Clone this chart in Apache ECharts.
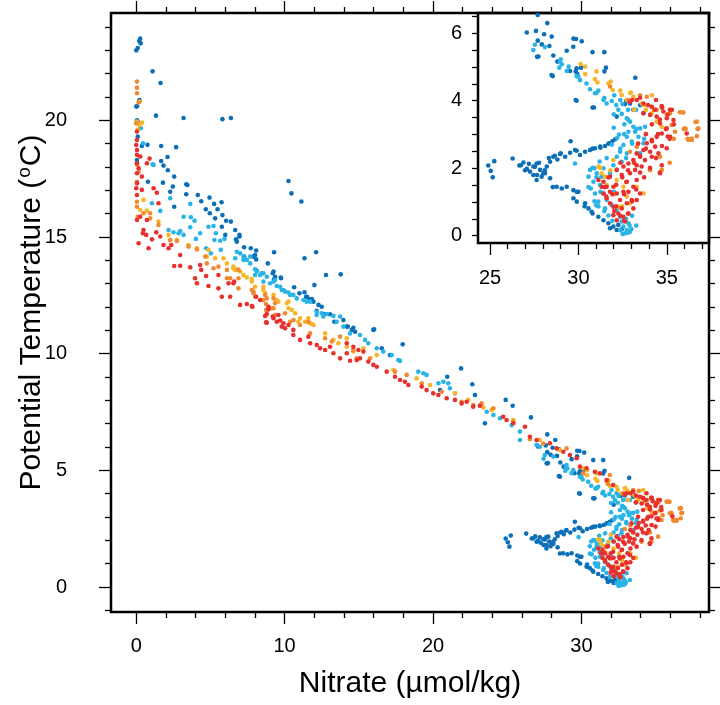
<!DOCTYPE html>
<html><head><meta charset="utf-8">
<script src="https://cdn.jsdelivr.net/npm/echarts@6/dist/echarts.min.js"></script>
<style>html,body{margin:0;padding:0;background:#fff}#c{width:720px;height:705px}</style>
</head><body><div id="c"></div>
<script>
// ---- data: [nitrate (umol/kg), potential temperature (C)] ----
// "Upper" points appear only in the main panel; "Deep" points appear in both the main panel and the inset.
const darkBlueUpper = [
[0.2,23.4],[0.3,23.3],[0.0,23.0],[0.1,23.1],[0.27,23.5],
[1.1,22.1],[1.64,21.6],[0.2,20.8],[0.05,20.6],[1.33,20.2],[3.19,20.1],[5.81,20.05],[6.38,20.1],[0.05,20.0],[0.22,20.87],[0,20.59],[0.09,19.95],[0.1,19.3],[0.76,18.95],[0.05,18.3],
[0.38,18.9],[1.68,18.9],[2.69,18.85],[0.05,18.16],[2.11,18.43],[1.68,18.26],[1.84,18.06],[2.13,17.86],[2.56,17.59],[0.79,17.37],[1.8,17.33],[2.47,17.16],[2.29,16.94],[3.37,17.26],[3.45,17.23],[4.15,16.8],[3.37,16.83],[4.38,16.53],[4.94,16.69],[5.25,16.42],[5.75,16.49],[4.69,16.19],[4.96,16.02],[5.48,16.19],[5.81,15.94],[5.32,15.8],[6.06,15.7],[6.38,15.66],[2.56,16.3],[5.77,15.44],[6.67,15.3],[6.73,14.9],[6.96,15.02],[6.0,15.09],[6.96,15.1],[6.78,14.8],
[10.26,17.4],[10.46,16.87],[11.13,16.52],[11.34,14.09],[12.12,14.35],[12.79,13.37],[13.78,13.4],[12.01,12.94],
[7.27,14.56],[7.72,14.52],[8.08,14.42],[7.88,14.16],[8.08,14.04],[9.29,14.35],[9.2,13.45],[9.29,13.19],[9.74,13.26],[10.64,12.85],[11.0,12.59],[11.34,12.63],[11.52,12.44],[11.67,12.33],[11.94,12.23],[12.28,12.09],[12.5,12.01],[13.06,11.69],[7.27,14.16],[8.01,14.23],[8.87,13.87],[9.25,13.52],[9.36,13.3],[9.76,13.23],[11.45,12.44],[11.83,12.34],[12.16,11.84],[12.68,11.7],[14.26,11.16],[14.63,11.11],[16.03,11.05],[13.96,11.44],[13.35,11.37],
[14.19,11.16],[14.53,11.02],[14.75,10.94],[15.98,11.02],[16.55,10.23],[17.1,9.94],[17.96,10.4],[21.89,9.37],[20.96,9.01],[22.65,8.69],[22.83,8.23],[20.47,8.44],[24.9,8.02],[25.37,7.77],[23.5,7.02],[26.6,7.27]
];
const darkBlueDeep = [
[27.7,6.54],[27.66,5.3],[28.48,4.76],[29.72,5.84],[30.19,5.76],[30.8,5.44],[31.47,5.44],[29.85,4.02],[30.8,3.8],[33.22,4.68],[29.85,4.87],[32.7,3.99],[31.47,4.87],
[28.24,6.3],[27.08,6.02],[27.6,6.07],[28.06,5.97],[28.49,5.9],[27.7,5.78],[27.93,5.67],[28.36,5.62],[27.74,5.31],[28.58,5.34],[29.34,5.48],[29.87,5.83],[29.71,5.6],[28.81,5.16],[28.55,4.73],[29.53,4.88],[29.9,4.96],[30.15,4.98],[29.94,4.79],[31.56,4.98],[29.9,4.0],[30.88,3.8],[32.64,3.9],[33.11,3.73],[33.49,3.87],[33.68,3.63],[32.92,3.92],[32.17,3.53],
[24.9,2.08],[25.24,2.21],[25.04,1.92],[25.15,1.73],[26.28,2.29],[26.66,2.08],[26.89,2.17],[27.08,1.98],[27.26,1.9],[27.45,2.05],[27.64,2.14],[27.83,1.95],[28.02,1.85],[28.21,2.05],[28.4,2.19],[28.58,2.34],[28.81,2.26],[28.96,2.42],[29.25,2.34],[29.53,2.46],[29.81,2.54],[30.09,2.39],[30.38,2.49],[30.66,2.54],[30.94,2.59],[31.23,2.64],[31.51,2.66],[31.79,2.74],[32.08,2.86],[27.45,1.8],[27.92,1.75],[28.4,1.7],[27.64,1.65],[28.11,1.85],[26.75,2.09],[27.2,2.13],[27.54,2.04],[27.77,2.16],[28.1,1.94],[28.33,2.3],[28.67,2.37],[29.0,2.44],[29.9,2.52],[30.8,2.58],[31.25,2.61],[31.7,2.73],[31.92,2.8],[29.56,2.8],[26.98,1.94],[27.66,1.8],
[28.77,1.45],[29.06,1.4],[29.34,1.45],[29.72,1.35],[30.0,1.3],[29.72,1.11],[29.91,1.01],[30.38,0.96],[30.57,0.81],[30.75,0.71],[31.13,0.56],[31.42,0.46],[31.7,0.37],[31.98,0.27],[32.17,0.17],[32.45,0.19],[31.79,0.22],[32.26,0.32],[28.55,1.44],[29.9,1.3],[30.35,0.87],[30.8,0.66]
];
const lightBlueUpper = [
[0.31,19.66],[0.45,19.02],[1.17,18.09],[1.1,18.12],[1.06,16.45],[1.62,16.12],[2.29,16.66],[3.64,16.42],[3.19,15.87],[3.68,15.85],[3.93,15.7],[3.64,15.42],[2.18,15.3],[2.51,15.2],[2.85,15.16],[3.19,15.09],[2.96,15.26],[4.31,15.16],[4.02,14.92],[4.87,15.44],[5.21,15.47],[5.37,15.16],[5.27,14.87],[5.66,14.84],[5.95,14.92],[5.7,14.45],[4.71,14.52],[5.03,14.3],
[6.78,14.37],[7.0,14.3],[7.23,14.16],[6.67,14.09],[7.45,14.02],[7.68,13.87],[8.01,13.62],[8.13,13.52],[8.35,13.37],[8.57,13.45],[8.8,13.3],[9.25,13.09],[9.7,12.87],[9.81,12.73],[10.03,12.66],[10.37,12.52],[10.59,12.52],[11.27,12.3],[11.49,12.23],[12.16,11.66],[12.5,11.73],[12.84,11.7],[13.29,11.62],[13.74,11.59],[7.23,14.02],[7.68,14.16],[8.13,13.56],[8.46,13.45],[8.01,13.37],[8.57,13.09],[9.02,13.02],[9.47,12.9],[9.92,12.73],[10.26,12.62],[10.82,12.37],[11.72,12.23],[12.17,11.8],[12.61,11.59],[13.51,11.37],[13.96,11.16],[9.36,13.16],
[14.41,10.87],[15.08,10.8],[15.42,10.59],[15.64,10.45],[16.21,10.23],[16.65,10.09],[17.66,9.73],[17.78,9.69],[17.22,9.94],[19.01,9.23],[19.35,9.16],[19.57,9.09],[20.36,8.73],[20.7,8.8],[21.03,8.73],[21.14,8.52],[21.48,8.3],[23.62,7.51],[24.07,7.37],[24.51,7.23],[25.3,6.94],[25.86,6.66],[25.86,6.3],[26.98,6.09],[27.2,6.01]
];
const lightBlueDeep = [
[27.54,5.66],[28.1,5.59],[29.0,5.23],[29.45,5.01],[29.9,4.73],[30.46,4.51],[31.02,4.23],[31.47,4.08],[32.14,3.87],[32.81,3.73],
[27.45,5.5],[28.96,5.16],[29.06,5.08],[29.34,4.88],[28.92,4.98],[30.0,4.71],[30.09,4.61],[30.66,4.34],[30.94,4.22],[31.13,4.3],[31.42,4.02],[31.6,3.92],[31.89,3.99],[32.26,3.73],[32.45,3.61],[32.74,3.48],[32.92,3.38],[33.11,3.23],[32.83,3.08],[33.21,3.08],[33.4,2.93],[32.74,2.93],[33.02,2.79],[32.55,2.69],[32.36,2.49],[32.74,2.44],[32.17,2.34],[32.45,2.19],[31.98,2.09],[32.17,1.95],[31.79,1.85],[31.42,2.0],[31.04,1.85],[30.66,1.95],[30.57,1.75],[30.85,1.6],[31.23,1.5],[31.42,1.25],[31.6,1.06],[31.89,0.91],[32.17,0.76],[31.51,0.81],[31.13,1.01],[32.36,0.56],[32.55,0.27],[32.74,0.17],[32.92,0.12],[32.64,0.07],[32.83,0.37],[32.45,0.42],[29.81,2.14],[33.68,2.74],[33.77,3.23],[33.49,3.18],[30.94,1.25],
[32.0,3.2],[32.3,3.0],[31.9,2.7],[32.6,3.3],[31.6,2.3],[31.2,2.2],[30.9,2.0],[31.3,1.75],[32.9,0.3],[33.0,0.2],[32.5,0.05],[32.7,0.5],[31.7,0.6],[32.0,1.3],[30.7,1.4],[31.0,0.9],[32.2,2.9],[32.5,3.9],[32.0,3.6],
[32.81,3.44],[33.27,3.16],[32.59,3.01],[33.04,2.73],[32.37,2.58],[32.7,2.3],[30.8,2.01],[31.02,1.73],[31.25,1.3],[31.13,0.87],[31.47,0.73],[31.92,0.44],[32.37,0.16],[32.81,0.09],[33.27,0.3],[33.04,0.59],[33.49,2.44],[33.72,2.87],[33.27,3.73],[32.37,4.02],[32.03,4.16],[30.57,1.44],[30.91,1.02]
];
const yellowUpper = [
[0.22,20.8],[0.05,19.95],[0.22,19.8],[0.4,19.9],[0.09,19.6],[0.49,16.59],[0.27,16.16],[0.72,16.13],[1.5,15.66],[2.18,15.09],[2.29,14.87],[2.74,14.87],[3.52,14.66],[4.09,14.52],[4.87,14.45],[4.76,14.16],[5.32,14.09],[5.88,14.09],[6.11,13.87],[6.55,13.73],[6.67,13.59],[7.0,13.52],[7.23,13.37],[7.45,13.27],[7.79,13.09],[8.01,12.87],[8.57,12.73],[8.69,12.59],[9.25,12.52],[9.47,12.3],[10.15,12.16],[10.26,11.95],[10.71,11.73],
[6.55,13.66],[6.78,13.62],[7.79,13.2],[8.57,12.87],[10.26,12.23],[10.49,11.87],[11.04,11.52],[11.38,11.37],[11.83,11.27],[11.6,11.52],
[9.58,12.23],[11.72,11.3],[11.94,11.23],[12.73,10.87],[13.29,10.59],[13.62,10.45],[14.19,10.3],[14.63,10.09],[10.93,11.37],
[14.19,10.66],[15.31,10.23],[16.21,9.94],[17.33,9.3],[18.9,8.94],[19.8,8.66],[21.48,8.3],[22.38,8.02],[23.39,7.7],[23.95,7.59],[25.41,7.16],[27.2,6.3],[28.55,5.87]
];
const yellowDeep = [
[30.12,5.09],[31.02,4.87],[31.7,4.51],[32.37,4.3],[32.93,4.23],[33.15,3.73],
[30.38,5.01],[30.38,4.79],[30.94,4.64],[31.08,4.54],[31.83,4.57],[31.94,4.32],[32.45,4.17],[32.96,4.24],[33.11,4.12],[32.74,4.02],[33.58,3.92],[33.83,3.73],[34.15,3.63],[34.43,3.38],[34.72,3.23],[31.32,1.85],[31.51,1.75],[31.6,1.5],[32.17,1.65],[32.55,1.45],[32.74,1.16],[32.92,0.96],[32.26,0.86],[33.3,1.45],[33.68,1.25],[31.13,2.05],[31.98,2.24],
[31.25,2.01],[31.81,1.94],[32.03,1.23],[32.48,0.87],[33.72,3.87],[34.16,4.16]
];
const orangeUpper = [
[0.05,21.66],[0.05,21.4],[0.05,21.16],[0.16,20.76],[0.0,19.87],[0.05,18.1],[0.16,17.8],[0.05,17.37],[0.05,16.51],[0.05,16.3],[0.1,15.87],[0.94,16.02],[0.94,15.8],[0.49,16.02],[1.5,15.52],[2.29,14.87],[2.74,14.83],[3.52,14.59],[4.09,14.47],[4.65,14.16],[4.76,13.87],[5.21,13.66],[5.54,13.73],[6.11,13.59],[6.11,13.23],[6.89,13.59],[6.89,13.23],[7.79,12.73],[7.9,12.59],[8.69,12.52],[8.8,12.37],[9.25,12.37],[9.36,12.16],
[6.33,13.23],[6.89,12.8],[7.9,12.66],[8.01,12.44],[8.57,12.3],[8.8,11.87],[9.14,11.95],[9.36,11.66],[10.37,11.37],[10.6,11.44],
[8.75,12.13],[8.75,11.87],[9.25,11.95],[10.03,11.73],[11.04,11.23],[11.6,11.37],[11.72,10.87],[12.73,10.66],[13.18,10.52],[14.86,9.8],
[13.74,10.73],[14.63,10.16],[15.76,9.8],[17.44,9.23],[18.23,9.09],[19.24,8.73],[20.59,8.37],[21.93,7.94],[22.71,7.8],[23.28,7.87],[24.07,7.66],[25.41,7.09],[26.53,6.33],[27.43,6.15],[29.0,5.94],[30.12,4.87],[31.92,4.8]
];
const orangeDeep = [
[32.81,4.02],[33.49,4.16],[34.28,3.73],[35.17,3.73],[35.84,3.66],[35.96,3.16],[36.18,2.87],[36.4,2.87],[36.63,3.37],[36.74,3.16],
[35.19,3.63],[35.94,3.65],[36.7,3.38],[36.79,3.18],[36.04,3.18],[36.7,2.95],[36.23,2.84],[36.42,2.84],[35.0,3.58],[35.28,3.28],[35.47,3.08],[34.62,2.34],[34.72,1.95],[32.92,2.49],[33.3,2.64],[33.87,4.12],[31.79,4.42],[34.15,3.82],[34.43,3.73],
[35.74,3.66],[36.07,3.16],[36.41,2.87],[35.4,2.87],[35.17,2.16],[34.05,1.94]
];
const redUpper = [
[0.05,19.52],[0.05,19.16],[0,18.94],[0.05,18.73],[0.05,18.52],[0.27,18.45],[0.05,18.16],[0.16,17.95],[0.05,17.73],[0.38,17.59],[0.05,17.3],[0,17.09],[0.38,17.02],[0.05,16.8],[0.72,18.16],[0.9,18.36],[1.17,17.09],[1.39,16.9],[1.5,16.45],[0.27,15.87],[0.05,15.73],[0.72,15.73],[0.49,15.3],[0.16,14.73],[0.83,14.52],[0.45,15.16],[0.67,15.09],[1.06,14.9],[1.35,15.2],[1.62,15.02],[1.84,14.66],[2.18,14.52],[2.36,14.66],[2.96,14.23],[2.56,13.76],[2.96,13.77],[3.64,13.7],[3.97,13.23],[4.09,13.02],[4.31,13.8],[4.38,13.59],[4.71,13.33],[4.87,12.9],[5.54,13.37],[5.54,12.8],[5.77,12.44],[6.33,12.44],[6.22,13.02],[6.6,13.09],[7.0,12.09],[7.45,12.13],[7.79,12.04],[8.8,11.7],[8.91,11.9],[9.2,11.59],[9.58,11.66],
[6.55,13.02],[8.08,12.44],[8.35,12.3],[8.69,11.62],[8.91,12.01],[8.75,11.34],[9.7,11.42],[9.92,11.3],[9.81,11.16],[10.26,11.23],
[7.83,12.01],[8.8,11.33],[9.25,11.52],[9.47,11.37],[10.03,11.09],[10.59,10.8],[11.04,10.59],[11.6,10.73],[11.72,10.45],[12.17,10.37],[12.39,10.23],[12.73,10.16],[13.06,10.3],[13.29,10.02],[13.74,9.8],[14.19,10.02],[14.41,9.7],[14.86,9.73],[15.08,9.8],[10.59,11.02],
[14.19,10.45],[14.63,10.3],[14.97,10.16],[15.31,10.09],[15.64,9.66],[15.98,9.52],[16.21,9.44],[16.88,9.23],[17.44,9.01],[17.78,8.87],[18.11,8.8],[18.34,8.66],[19.24,8.59],[19.57,8.44],[20.02,8.3],[20.36,8.23],[20.92,8.09],[21.48,8.02],[21.93,7.87],[22.27,7.94],[22.71,7.73],[23.16,7.77],[24.73,7.3],[24.96,7.16],[25.41,7.02],[26.2,6.87],[26.53,6.44],[26.98,6.3],[27.88,6.16],[28.33,5.94],[28.78,5.8],[29.23,5.66],[29.68,5.52],[29.9,5.16],[30.35,5.09],[30.91,4.94],[31.25,4.87],[31.7,4.59],[32.14,4.37]
];
const redDeep = [
[33.04,4.02],[33.49,4.09],[33.94,3.87],[34.73,3.8],[34.61,1.87],[35.17,2.87],
[32.92,3.97],[33.3,4.02],[33.68,3.92],[34.15,3.82],[34.34,3.73],[34.72,3.84],[34.81,3.68],[35.19,3.73],[35.0,3.48],[35.38,3.43],[34.43,3.53],[34.06,3.58],[33.68,3.63],[34.62,3.33],[35.0,3.18],[34.72,3.03],[34.43,2.93],[34.15,2.84],[33.87,2.74],[34.34,2.64],[34.06,2.49],[33.68,2.54],[33.3,2.44],[33.49,2.34],[33.11,2.24],[32.83,2.14],[32.55,2.05],[33.3,2.09],[33.77,2.24],[34.15,2.34],[34.53,2.44],[35.0,2.59],[35.19,2.93],[34.72,2.09],[34.62,1.85],[36.13,3.03],
[31.42,1.6],[31.6,1.45],[31.79,1.3],[31.98,1.45],[32.17,1.25],[32.36,1.06],[31.98,0.86],[32.26,0.66],[32.55,0.56],[32.83,0.66],[33.11,0.81],[33.3,1.06],[33.49,1.25],[33.11,1.45],[32.74,1.6],[32.45,1.8],[32.17,1.95],[31.79,1.75],[31.32,1.45],[31.6,1.11],[31.79,0.96],[32.17,0.46],[32.64,0.42],[33.02,1.06],[33.3,1.65],[32.92,1.85],[32.55,1.3],[32.74,0.96],[32.45,0.81],[31.98,0.61],[32.83,1.3],[33.21,1.95],[33.58,2.05],[31.42,1.25],[31.13,1.65],
[34.39,4.02],[34.73,3.8],[35.06,3.59],[35.4,3.3],[34.95,3.16],[34.5,3.01],[34.16,2.8],[33.82,2.58],[33.49,2.37],[33.15,2.16],[32.81,1.94],[32.48,1.73],[32.14,1.51],[31.92,1.23],[32.14,0.87],[32.37,0.59],[32.81,0.66],[33.04,1.02],[33.27,1.37],[33.72,1.73],[34.05,2.01],[34.39,2.3],[34.73,2.66],[35.06,2.94],[35.29,3.73],[31.7,1.73],[31.47,1.44],[31.58,1.16],[32.59,1.23],[32.71,1.59],[33.49,1.87],[32.37,2.16],[34.16,3.3],[33.82,3.01],[34.61,3.44],[33.38,2.73],[32.03,0.73],[32.59,0.44]
];
const mainXMajor = [0, 10, 20, 30];
const mainXMinor = [2,4,6,8,12,14,16,18,22,24,26,28,32,34,36,38];
const mainYMajor = [0, 5, 10, 15, 20];
const mainYMinor = [-1,1,2,3,4,6,7,8,9,11,12,13,14,16,17,18,19,21,22,23,24];
const insetXMajor = [25, 30, 35];
const insetXMinor = [26,27,28,29,31,32,33,34,36,37];
const insetYTicks = [0,0.5,1,1.5,2,2.5,3,3.5,4,4.5,5,5.5,6,6.5];
const insetYLabels = [0, 2, 4, 6];
const seriesList = [
  {name: 'A', upper: darkBlueUpper, deep: darkBlueDeep, color: '#0b6fb8'},
  {name: 'B', upper: lightBlueUpper, deep: lightBlueDeep, color: '#2ab3e6'},
  {name: 'C', upper: yellowUpper, deep: yellowDeep, color: '#f7b52a'},
  {name: 'D', upper: orangeUpper, deep: orangeDeep, color: '#ef8a30'},
  {name: 'E', upper: redUpper, deep: redDeep, color: '#e8302c'}
];

const FONT = '"Liberation Sans", Arimo, Helvetica, Arial, sans-serif';
const tickStyle = {color: '#000', width: 1.3};
function ax(opt) {
  return Object.assign({
    type: 'value', splitLine: {show: false}, axisLine: {show: false, onZero: false},
    axisTick: {show: true, inside: false, length: opt.len, customValues: opt.ticks, lineStyle: tickStyle},
    axisLabel: opt.labels ? {show: true, customValues: opt.labels, fontSize: 20, color: '#000', fontFamily: FONT, margin: opt.margin} : {show: false},
    min: opt.min, max: opt.max, gridIndex: opt.grid, position: opt.position, nameMoveOverlap: false
  }, opt.extra || {});
}
const MX = {min: -1.7, max: 38.6}, MY = {min: -1.07, max: 24.6};
const IX = {min: 24.32, max: 37.39}, IY = {min: -0.216, max: 6.60};

const xAxis = [
  ax({grid: 0, position: 'bottom', ...MX, ticks: mainXMajor, len: 12, labels: mainXMajor, margin: 24,
      extra: {name: 'Nitrate (µmol/kg)', nameLocation: 'middle', nameGap: 57, nameTextStyle: {fontSize: 30, color: '#000', fontFamily: FONT}}}),
  ax({grid: 0, position: 'bottom', ...MX, ticks: mainXMinor, len: 6}),
  ax({grid: 0, position: 'top', ...MX, ticks: mainXMajor, len: 12}),
  ax({grid: 0, position: 'top', ...MX, ticks: mainXMinor, len: 6}),
  ax({grid: 1, position: 'bottom', ...IX, ticks: insetXMajor, len: 12, labels: insetXMajor, margin: 25}),
  ax({grid: 1, position: 'bottom', ...IX, ticks: insetXMinor, len: 6})
];
const yAxis = [
  ax({grid: 0, position: 'left', ...MY, ticks: mainYMajor, len: 12, labels: mainYMajor, margin: 44,
      extra: {name: '{a|Potential Temperature (}{s|o}{a|C)}', nameLocation: 'middle', nameGap: 63,
              nameTextStyle: {fontSize: 30, color: '#000', fontFamily: FONT,
                rich: {a: {fontSize: 30, fontFamily: FONT, color: '#000'}, s: {fontSize: 19, fontFamily: FONT, color: '#000', padding: [0, 1, 14, 1]}}}}}),
  ax({grid: 0, position: 'left', ...MY, ticks: mainYMinor, len: 6}),
  ax({grid: 0, position: 'right', ...MY, ticks: mainYMajor, len: 12}),
  ax({grid: 0, position: 'right', ...MY, ticks: mainYMinor, len: 6}),
  ax({grid: 1, position: 'left', ...IY, ticks: insetYTicks, len: 6, labels: insetYLabels, margin: 16})
];

const series = [];
seriesList.forEach(s => {
  const common = {type: 'scatter', name: s.name, symbol: 'circle', symbolSize: 4.6, clip: true, silent: true, animation: false,
                  itemStyle: {color: s.color, opacity: 1}};
  series.push(Object.assign({}, common, {data: s.upper.concat(s.deep), xAxisIndex: 0, yAxisIndex: 0}));
  series.push(Object.assign({}, common, {data: s.deep, xAxisIndex: 4, yAxisIndex: 4}));
});

const chart = echarts.init(document.getElementById('c'), null, {renderer: 'canvas'});
chart.setOption({
  backgroundColor: '#fff',
  animation: false,
  grid: [
    {left: 111, top: 13, width: 598, height: 599, show: true, borderColor: '#000', borderWidth: 2.5, backgroundColor: 'transparent', containLabel: false, outerBoundsMode: 'none'},
    {left: 478, top: 13, width: 231, height: 230, show: true, borderColor: '#000', borderWidth: 2.5, backgroundColor: 'transparent', containLabel: false, outerBoundsMode: 'none'}
  ],
  xAxis, yAxis, series
});
</script></body></html>
